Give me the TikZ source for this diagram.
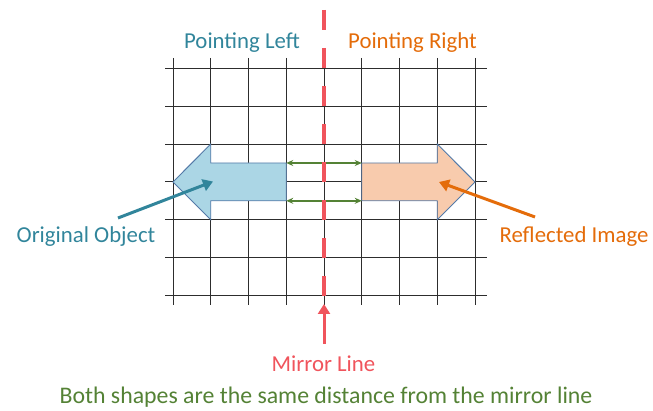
\documentclass[tikz,border=0pt]{standalone}
\usepackage{fontspec}
\setmainfont{Carlito}
\usepackage{tikz}
\usetikzlibrary{arrows.meta, positioning}

\definecolor{objblue}{RGB}{49,133,155}
\definecolor{reflorange}{RGB}{228,108,10}
\definecolor{mirrorred}{RGB}{240,84,92}
\definecolor{gapgreen}{RGB}{84,130,53}
\definecolor{fillblue}{RGB}{171,214,229}
\definecolor{fillorange}{RGB}{248,203,173}
\definecolor{edgeblue}{RGB}{84,122,168}
\definecolor{gridgray}{RGB}{45,45,45}

\begin{document}
\begin{tikzpicture}[
    x=1pt, y=-1pt,
    every node/.style={font=\fontsize{22.8}{27}\selectfont, inner sep=0pt},
    caption/.style={anchor=base},
    gridline/.style={draw=gridgray, line width=0.9pt},
    block/.style={draw=edgeblue, line width=0.9pt, line join=miter},
    gap/.style={draw=gapgreen, line width=1.6pt, {Stealth[length=7pt,width=6pt]}-{Stealth[length=7pt,width=6pt]}},
    pointer/.style={line width=3pt, -{Triangle[length=10pt,width=12pt]}},
    mirrorline/.style={draw=mirrorred, line width=4.5pt, dash pattern=on 20pt off 18pt}
]
\useasboundingbox (0,0) rectangle (653,411);

\foreach \i in {0,...,8}
    \draw[gridline] (173+\i*37.75,58) -- (173+\i*37.75,305);
\foreach \j in {0,...,6}
    \draw[gridline] (165,68.5+\j*37.8) -- (487,68.5+\j*37.8);

\draw[block, fill=fillblue] (173,181.9) -- (210.75,144.1) -- (210.75,163) -- (286.25,163)
    -- (286.25,200.8) -- (210.75,200.8) -- (210.75,219.7) -- cycle;
\draw[block, fill=fillorange] (475,181.9) -- (437.25,144.1) -- (437.25,163) -- (361.75,163)
    -- (361.75,200.8) -- (437.25,200.8) -- (437.25,219.7) -- cycle;

\coordinate (objtop) at (286.25,163);
\coordinate (objbot) at (286.25,200.8);
\coordinate (imgtop) at (361.75,163);
\coordinate (imgbot) at (361.75,200.8);
\draw[gap] (objtop) -- (imgtop);
\draw[gap] (objbot) -- (imgbot);

\coordinate (mirrortop) at (324,10);
\coordinate (mirrorend) at (324,297);
\draw[mirrorline] (mirrortop) -- (mirrorend);

\node (ptleft) [caption, text=objblue] at (242,49) {Pointing Left};
\node (ptright) [caption, text=reflorange] at (412.5,49) {Pointing Right};
\node (orig) [caption, text=objblue] at (86,243) {Original Object};
\node (refl) [caption, text=reflorange] at (574,243) {Reflected Image};
\node (mirror) [caption, text=mirrorred] at (323.5,371.7) {Mirror Line};
\node (note) [caption, text=gapgreen, font=\fontsize{23.8}{28}\selectfont] at (326,403) {Both shapes are the same distance from the mirror line};

\coordinate (origfrom) at (118,218);
\coordinate (origto) at (213,181.5);
\coordinate (reflfrom) at (535,217);
\coordinate (reflto) at (439,182);
\coordinate (mirrorto) at (324,304);
\draw[pointer, objblue] (origfrom) -- (origto);
\draw[pointer, reflorange] (reflfrom) -- (reflto);
\draw[pointer, mirrorred, shorten <=12pt] (mirror.north -| mirrorto) -- (mirrorto);

\end{tikzpicture}
\end{document}
